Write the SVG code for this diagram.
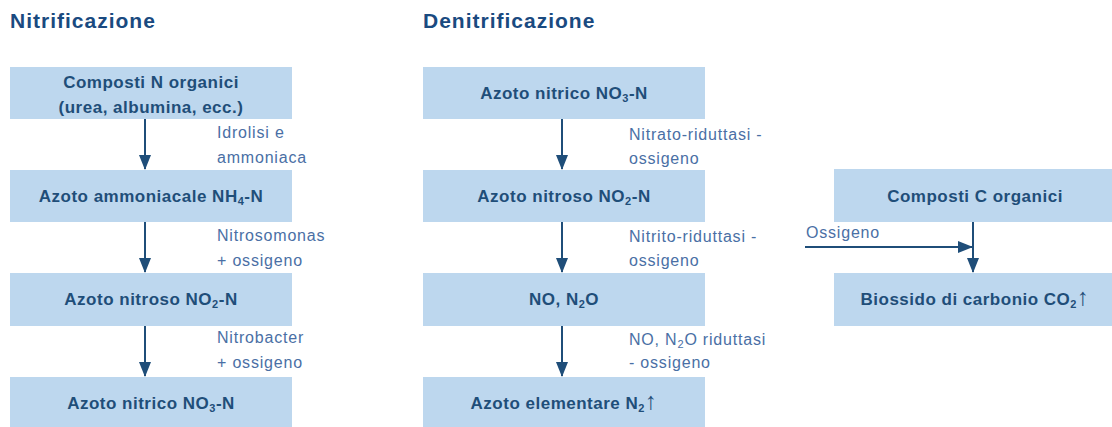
<svg xmlns="http://www.w3.org/2000/svg" width="1112" height="427" viewBox="0 0 1112 427">
<defs>
<marker id="ah" markerWidth="15" markerHeight="12" refX="14" refY="6" orient="auto" markerUnits="userSpaceOnUse"><path d="M0,0 L15,6 L0,12 z" fill="#1f4e79"/></marker>
<style>
.title{font-family:"Liberation Sans",Arial,sans-serif;font-weight:bold;font-size:21px;letter-spacing:1px;fill:#1a4a80}
.box{fill:#bdd7ee}
.bt{font-family:"Liberation Sans",Arial,sans-serif;font-weight:bold;font-size:17px;letter-spacing:0.5px;fill:#1f4e79;text-anchor:middle}
.lb{font-family:"Liberation Sans",Arial,sans-serif;font-size:16px;letter-spacing:0.8px;fill:#4a6fa5}
.cn{stroke:#1f4e79;stroke-width:2;fill:none;marker-end:url(#ah)}
.sub{font-size:11px}
.up{font-weight:normal;font-size:24px}
</style>
</defs>
<rect width="1112" height="427" fill="#ffffff"/>
<text class="title" x="10" y="28">Nitrificazione</text>
<text class="title" x="423" y="28">Denitrificazione</text>

<g id="n1"><rect class="box" x="10" y="67" width="282" height="52"/><text class="bt" x="151" y="88">Composti N organici</text><text class="bt" x="151" y="113">(urea, albumina, ecc.)</text></g>
<g id="n2"><rect class="box" x="10" y="170" width="282" height="52"/><text class="bt" x="151" y="202">Azoto ammoniacale NH<tspan class="sub" dy="3">4</tspan><tspan dy="-3">-N</tspan></text></g>
<g id="n3"><rect class="box" x="10" y="273" width="282" height="53"/><text class="bt" x="151" y="305">Azoto nitroso NO<tspan class="sub" dy="3">2</tspan><tspan dy="-3">-N</tspan></text></g>
<g id="n4"><rect class="box" x="10" y="377" width="282" height="53"/><text class="bt" x="151" y="409">Azoto nitrico NO<tspan class="sub" dy="3">3</tspan><tspan dy="-3">-N</tspan></text></g>

<g id="d1"><rect class="box" x="423" y="67" width="282" height="52"/><text class="bt" x="564" y="99">Azoto nitrico NO<tspan class="sub" dy="3">3</tspan><tspan dy="-3">-N</tspan></text></g>
<g id="d2"><rect class="box" x="423" y="170" width="282" height="52"/><text class="bt" x="564" y="202">Azoto nitroso NO<tspan class="sub" dy="3">2</tspan><tspan dy="-3">-N</tspan></text></g>
<g id="d3"><rect class="box" x="423" y="273" width="282" height="53"/><text class="bt" x="564" y="305">NO, N<tspan class="sub" dy="3">2</tspan><tspan dy="-3">O</tspan></text></g>
<g id="d4"><rect class="box" x="423" y="377" width="282" height="53"/><text class="bt" x="564" y="409">Azoto elementare N<tspan class="sub" dy="3">2</tspan><tspan class="up" dy="-3">↑</tspan></text></g>

<g id="c1"><rect class="box" x="834" y="169" width="280" height="53"/><text class="bt" x="975" y="202">Composti C organici</text></g>
<g id="c2"><rect class="box" x="834" y="273" width="280" height="53"/><text class="bt" x="975" y="305">Biossido di carbonio CO<tspan class="sub" dy="3">2</tspan><tspan class="up" dy="-3">↑</tspan></text></g>

<g id="connectors">
<line class="cn" x1="145" y1="119" x2="145" y2="169"/>
<line class="cn" x1="145" y1="222" x2="145" y2="272"/>
<line class="cn" x1="145" y1="326" x2="145" y2="376"/>
<line class="cn" x1="562" y1="119" x2="562" y2="169"/>
<line class="cn" x1="562" y1="222" x2="562" y2="272"/>
<line class="cn" x1="562" y1="326" x2="562" y2="376"/>
<line class="cn" x1="973" y1="222" x2="973" y2="272"/>
<line class="cn" x1="805" y1="247" x2="972" y2="247"/>
</g>

<g id="labels">
<text class="lb" x="217" y="138">Idrolisi e</text>
<text class="lb" x="217" y="163">ammoniaca</text>
<text class="lb" x="217" y="241">Nitrosomonas</text>
<text class="lb" x="217" y="266">+ ossigeno</text>
<text class="lb" x="217" y="343">Nitrobacter</text>
<text class="lb" x="217" y="368">+ ossigeno</text>
<text class="lb" x="629" y="140">Nitrato-riduttasi -</text>
<text class="lb" x="629" y="164">ossigeno</text>
<text class="lb" x="629" y="242">Nitrito-riduttasi -</text>
<text class="lb" x="629" y="266">ossigeno</text>
<text class="lb" x="629" y="345">NO, N<tspan class="sub" dy="3">2</tspan><tspan dy="-3">O riduttasi</tspan></text>
<text class="lb" x="629" y="368">- ossigeno</text>
<text class="lb" x="806" y="238">Ossigeno</text>
</g>
</svg>
